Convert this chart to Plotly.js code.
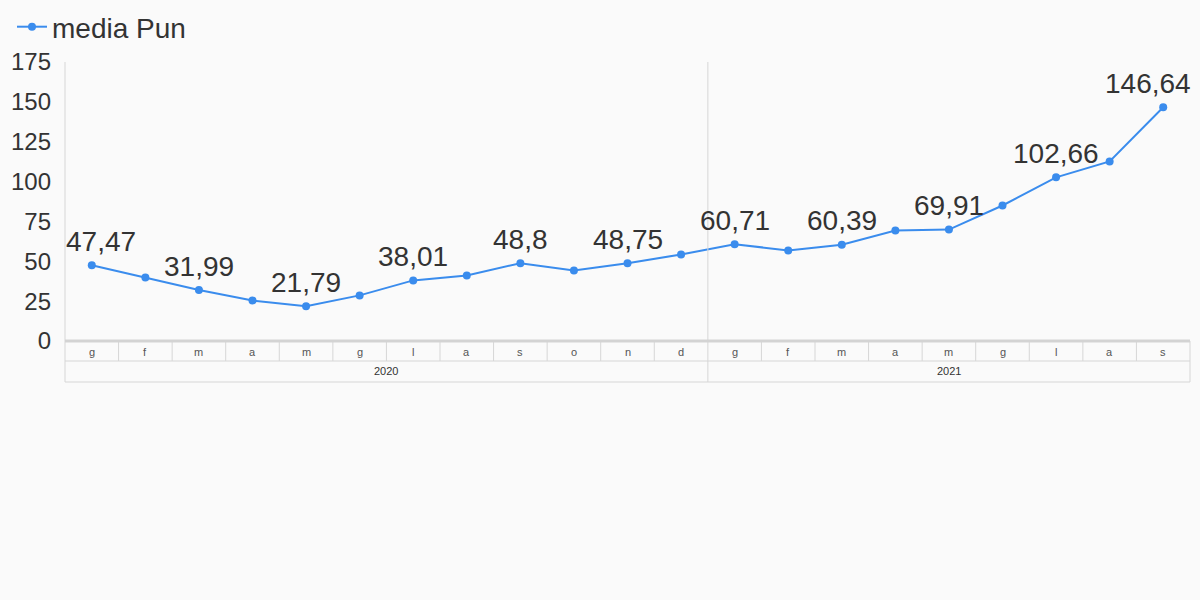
<!DOCTYPE html>
<html>
<head>
<meta charset="utf-8">
<script src="https://cdn.plot.ly/plotly-3.0.1.min.js"></script>
<style>html,body{margin:0;padding:0;background:#fafafa;}#chart{width:1200px;height:600px;}</style>
</head>
<body>
<div id="chart"></div>
<script>
const months = ['g','f','m','a','m','g','l','a','s','o','n','d','g','f','m','a','m','g','l','a','s'];
const years = ['2020','2020','2020','2020','2020','2020','2020','2020','2020','2020','2020','2020','2021','2021','2021','2021','2021','2021','2021','2021','2021'];
const values = [47.47, 39.8, 31.99, 25.4, 21.79, 28.6, 38.01, 41.1, 48.8, 44.2, 48.75, 54.3, 60.71, 56.8, 60.39, 69.3, 69.91, 85.0, 102.66, 112.6, 146.64];
const labelIdx = [0,2,4,6,8,10,12,14,16,18,20];
const yTicks = [0,25,50,75,100,125,150,175];
const seriesName = 'media Pun';

const FONT = '"Liberation Sans", Arial, sans-serif';
const idx = months.map((_, i) => i);
const n = months.length;
const fmt = v => String(v).replace('.', ',');

const plotH = 279;
const plotW = 1125;
const pxToPaper = px => -px / plotH;
const grid = '#d6d6d6';

const shapes = [];
for (let i = 1; i < n; i++) {
  const newYear = years[i] !== years[i-1];
  shapes.push({type:'line', xref:'x', yref:'paper', x0:i-0.5, x1:i-0.5,
    y0: newYear ? 1 : 0, y1: newYear ? pxToPaper(41) : pxToPaper(20),
    line:{color:grid, width:1}});
}
shapes.push({type:'line', xref:'paper', yref:'paper', x0:0, x1:1, y0:pxToPaper(20), y1:pxToPaper(20), line:{color:grid,width:1}});
shapes.push({type:'line', xref:'paper', yref:'paper', x0:0, x1:1, y0:pxToPaper(41), y1:pxToPaper(41), line:{color:grid,width:1}});
shapes.push({type:'line', xref:'paper', yref:'paper', x0:0, x1:0, y0:1, y1:pxToPaper(41), line:{color:grid,width:1}});
shapes.push({type:'line', xref:'paper', yref:'paper', x0:1, x1:1, y0:0, y1:pxToPaper(41), line:{color:grid,width:1}});
shapes.push({type:'line', xref:'paper', yref:'paper', x0:0, x1:1, y0:0, y1:0, line:{color:'#d3d3d3',width:3}});

const annotations = [];
months.forEach((m, i) => {
  annotations.push({x:i, y:pxToPaper(11), xref:'x', yref:'paper', text:m, showarrow:false,
    font:{family:FONT, size:11, color:'#555'}, yanchor:'middle'});
});
const uniqYears = [...new Set(years)];
uniqYears.forEach(yr => {
  const ids = idx.filter(i => years[i] === yr);
  const c = (ids[0] + ids[ids.length-1]) / 2;
  annotations.push({x:c, y:pxToPaper(30), xref:'x', yref:'paper', text:yr, showarrow:false,
    font:{family:FONT, size:11, color:'#333'}, yanchor:'middle'});
});
labelIdx.forEach(i => {
  let xs = 0;
  if (i === 0) xs = 9;
  if (i === n-1) xs = -15;
  annotations.push({x:i, y:values[i], xref:'x', yref:'y', text:fmt(values[i]), showarrow:false,
    yshift:24, xshift:xs, yanchor:'middle',
    font:{family:FONT, size:28, color:'#333'}});
});

const trace = {
  x: idx, y: values, type:'scatter', mode:'lines+markers', name: seriesName,
  line:{color:'#3a8ced', width:2}, marker:{color:'#3a8ced', size:8},
  cliponaxis:false
};

const layout = {
  width:1200, height:600,
  paper_bgcolor:'#fafafa', plot_bgcolor:'#fafafa',
  margin:{l:65, r:10, t:62, b:259, pad:0, autoexpand:false},
  showlegend:true,
  legend:{x:-53/plotW, xanchor:'left', y:1 + 35/plotH, yanchor:'middle', orientation:'h',
    font:{family:FONT, size:28, color:'#333'}, bgcolor:'rgba(0,0,0,0)'},
  xaxis:{range:[-0.5, n-0.5], showgrid:false, zeroline:false, showticklabels:false, ticks:'', showline:false, fixedrange:true},
  yaxis:{range:[0,175], tickvals:yTicks, showgrid:false, zeroline:false, showline:false, ticks:'',
    tickfont:{family:FONT, size:24, color:'#333'}, ticklabelstandoff:13},
  shapes, annotations,
  font:{family:FONT, color:'#333'}
};

Plotly.newPlot('chart', [trace], layout, {displayModeBar:false, staticPlot:true});
</script>
</body>
</html>
